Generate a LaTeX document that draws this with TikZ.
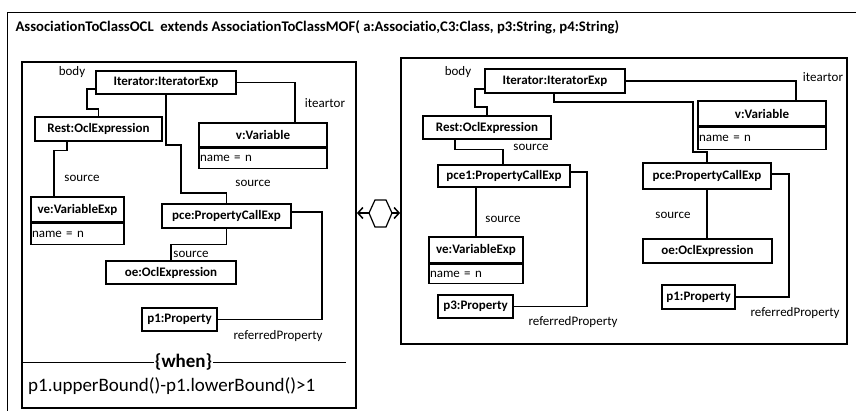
\documentclass[tikz,border=0pt]{standalone}
\usepackage{fontspec}
\setmainfont{Carlito}[Ligatures={NoCommon}]
\usetikzlibrary{arrows.meta}

\tikzset{
	obj/.style={draw, line width=1.5pt, inner sep=0pt, font=\fontsize{13}{15}\selectfont\bfseries},
	attr/.style={draw, line width=1.5pt, inner xsep=1pt, inner ysep=0pt, align=left, anchor=north, font=\fontsize{13}{15}\selectfont},
	role/.style={inner sep=0pt, font=\fontsize{13}{15}\selectfont},
	link/.style={line width=1.5pt},
	frame/.style={draw, line width=1.8pt, inner sep=0pt},
	tip/.style={-{Straight Barb[length=5pt, width=11pt]}},
}

\begin{document}
\begin{tikzpicture}[x=1pt, y=-1pt]
	\useasboundingbox (0,0) rectangle (856,411);
	\draw[line width=0.8pt] (7,412) -- (7,12) -- (857,12);
	\node[anchor=west, font=\fontsize{14.7}{17}\selectfont\bfseries] (title) at (12,27)
		{AssociationToClassOCL\ \ extends AssociationToClassMOF( a:Associatio,C3:Class, p3:String, p4:String)};

	% left side
	\node[frame, minimum width=334pt, minimum height=346pt] (lbox) at (189,235) {};
	\node[obj, minimum width=140pt, minimum height=23pt] (it1) at (166,82.5) {Iterator:IteratorExp};
	\node[obj, minimum width=127pt, minimum height=24pt] (rest1) at (98.5,129) {Rest:OclExpression};
	\node[obj, minimum width=128pt, minimum height=24pt] (v1t) at (263,135) {v:Variable};
	\node[attr, text width=126pt, minimum height=20pt] (v1a) at (v1t.south) {name = n};
	\node[obj, minimum width=93pt, minimum height=25pt] (ve1t) at (77.5,209.5) {ve:VariableExp};
	\node[attr, text width=91pt, minimum height=21pt] (ve1a) at (ve1t.south) {name = n};
	\node[obj, minimum width=129pt, minimum height=24pt] (pcel) at (226.5,216) {pce:PropertyCallExp};
	\node[obj, minimum width=130pt, minimum height=23pt] (oe1) at (171,272.5) {oe:OclExpression};
	\node[obj, minimum width=75pt, minimum height=23pt] (p1l) at (179.5,319.5) {p1:Property};

	\draw[link] ([yshift=-6.5pt]it1.west) -| (87,109) -| (rest1.north);
	\draw[link] (it1.east) -| ([xshift=32pt]v1t.north);
	\draw[link] (it1.south) |- (181,145) -- (181,193) -| (pcel.north);
	\draw[link] ([xshift=-31.5pt]rest1.south) -- ++(0,9) -| ([xshift=-23.5pt]ve1t.north);
	\draw[link] ([yshift=4pt]pcel.east) -| (322,300) |- (p1l.east);
	\draw[link] (pcel.south) -- ++(0,16) -| (oe1.north);

	\node[role] (body1) at (72,72) {body};
	\node[role] (iter1) at (325,103) {iteartor};
	\node[role] (src1) at (253,183) {source};
	\node[role] (src2) at (82,178) {source};
	\node[role] (src3) at (191,254) {source};
	\node[role] (ref1) at (278,336) {referredProperty};

	\draw[line width=0.8pt] (lbox.west |- 0,362) -- (346,362)
		node[midway, fill=white, inner xsep=1pt, font=\fontsize{19}{22}\selectfont\bfseries] (when) {\{when\}};
	\node[anchor=west, inner sep=0pt, font=\fontsize{19}{22}\selectfont] (cond) at (28,386)
		{p1.upperBound()-p1.lowerBound()>1};

	% right side
	\node[frame, minimum width=446pt, minimum height=286pt] (rbox) at (624,201) {};
	\node[obj, minimum width=140pt, minimum height=24pt] (it2) at (555,81) {Iterator:IteratorExp};
	\node[obj, minimum width=128pt, minimum height=23pt] (rest2) at (487,127.5) {Rest:OclExpression};
	\node[obj, minimum width=132pt, minimum height=22pt] (pceA) at (504,176) {pce1:PropertyCallExp};
	\node[obj, minimum width=94pt, minimum height=26pt] (ve2t) at (476,250) {ve:VariableExp};
	\node[attr, text width=92pt, minimum height=19pt] (ve2a) at (ve2t.south) {name = n};
	\node[obj, minimum width=75pt, minimum height=23pt] (p3) at (475.5,306.5) {p3:Property};
	\node[obj, minimum width=128pt, minimum height=25pt] (v2t) at (762,113.5) {v:Variable};
	\node[attr, text width=126pt, minimum height=22pt] (v2a) at (v2t.south) {name = n};
	\node[obj, minimum width=128pt, minimum height=26pt] (pce2) at (707,176) {pce:PropertyCallExp};
	\node[obj, minimum width=129pt, minimum height=24pt] (oe2) at (707.5,251) {oe:OclExpression};
	\node[obj, minimum width=73pt, minimum height=24pt] (p1r) at (698.5,297) {p1:Property};

	\draw[link] ([yshift=-8pt]it2.west) -| (475,107) -| (rest2.north);
	\draw[link] (it2.east) -| ([xshift=34pt]v2t.north);
	\draw[link] ([xshift=-1pt]it2.south) |- (693,102) -- (693,152) -| (pce2.north);
	\draw[link] ([xshift=-32pt]rest2.south) -- ++(0,10) -| ([xshift=-1pt]pceA.north);
	\draw[link] (ve2t.north |- pceA.south) -- (ve2t.north);
	\draw[link] ([yshift=4pt]pceA.east) -| (587,280) |- (p3.east);
	\draw[link] (pce2.south) -- (pce2.south |- oe2.north);
	\draw[link] ([yshift=2pt]pce2.east) -| (789,280) |- (p1r.east);

	\node[role] (body2) at (458,72) {body};
	\node[role] (iter2) at (823,77) {iteartor};
	\node[role] (src4) at (531,147) {source};
	\node[role] (src5) at (503,219) {source};
	\node[role] (src6) at (673,215) {source};
	\node[role] (ref2) at (573,322) {referredProperty};
	\node[role] (ref3) at (795,313) {referredProperty};

	% link between the two patterns
	\coordinate (hexl) at (369,213);
	\coordinate (hexr) at (392,213);
	\draw[line width=1.2pt] (hexl) -- (375,200) -- (386,200) -- (hexr) -- (386,227) -- (375,227) -- cycle;
	\draw[link, tip] (hexl) -- (lbox.east |- hexl);
	\draw[link, tip] (hexr) -- (rbox.west |- hexr);
\end{tikzpicture}
\end{document}
